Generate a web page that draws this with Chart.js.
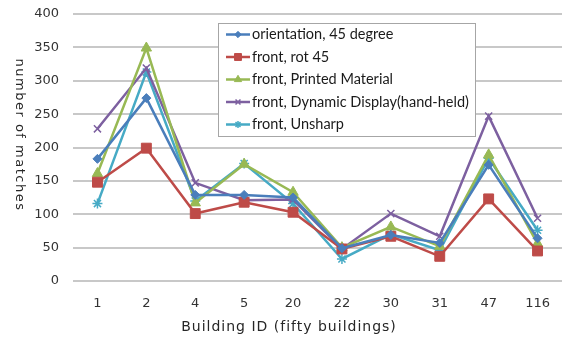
<!DOCTYPE html>
<html>
<head>
<meta charset="utf-8">
<script src="https://cdn.jsdelivr.net/npm/chart.js@4/dist/chart.umd.min.js"></script>
<style>
  html, body { margin: 0; padding: 0; background: #fff; }
  #wrap { width: 570px; height: 340px; }
</style>
</head>
<body>
<div id="wrap"><canvas id="c" width="570" height="340"></canvas></div>
<script>
// Building IDs on the x axis
const buildings = ['1', '2', '4', '5', '20', '22', '30', '31', '47', '116'];

// Number of matches per building for each test condition
const orientation45 = [183, 274, 129, 129, 125, 49, 69, 57, 174, 64];
const frontRot45 = [148, 199, 101, 118, 103, 48, 67, 37, 123, 45];
const frontPrinted = [161, 349, 117, 175, 133, 50, 81, 52, 189, 56];
const frontDynamic = [228, 319, 147, 121, 122, 48, 101, 67, 247, 94];
const frontUnsharp = [116, 313, 120, 176, 116, 33, 70, 46, 184, 76];

const seriesLabels = [
  'orientation, 45 degree',
  'front, rot 45',
  'front, Printed Material',
  'front, Dynamic Display(hand-held)',
  'front, Unsharp'
];

const yTicks = [0, 50, 100, 150, 200, 250, 300, 350, 400];

const palette = ['#4a7ebb', '#be4b48', '#98b954', '#7d60a0', '#46aac5'];
const shapes = ['rectRot', 'rect', 'triangle', 'crossRot', 'star'];
const sizes = [4.5, 7, 6, 5, 5];
const valueSets = [orientation45, frontRot45, frontPrinted, frontDynamic, frontUnsharp];

const datasets = valueSets.map((vals, i) => ({
  label: seriesLabels[i],
  data: vals,
  borderColor: palette[i],
  backgroundColor: palette[i],
  borderWidth: 2.5,
  pointStyle: shapes[i],
  pointRadius: sizes[i],
  pointBorderWidth: (shapes[i] === 'crossRot' || shapes[i] === 'star') ? 1.5 : 1,
  pointBorderColor: palette[i],
  pointBackgroundColor: palette[i],
  tension: 0
}));

// Axis titles: the vertical one reads top to bottom
const axisTitlePlugin = {
  id: 'axisTitles',
  afterDraw(chart) {
    const ctx = chart.ctx;
    ctx.save();
    ctx.fillStyle = '#262626';
    ctx.textAlign = 'center';
    ctx.textBaseline = 'middle';
    ctx.letterSpacing = '1.5px';
    ctx.font = '13px "DejaVu Sans"';
    ctx.save();
    ctx.translate(19, 135);
    ctx.rotate(Math.PI / 2);
    ctx.fillText('number of matches', 0, 0);
    ctx.restore();
    ctx.letterSpacing = '1px';
    ctx.font = '14px "DejaVu Sans"';
    ctx.fillText('Building ID (fifty buildings)', 289, 327);
    ctx.restore();
  }
};

// Boxed legend placed inside the plot
const boxLegendPlugin = {
  id: 'boxLegend',
  afterDraw(chart) {
    const ctx = chart.ctx;
    const x0 = 218, y0 = 23, w = 257, h = 113, rowH = 22.5;
    ctx.save();
    ctx.fillStyle = '#ffffff';
    ctx.fillRect(x0, y0, w, h);
    ctx.strokeStyle = '#a6a6a6';
    ctx.lineWidth = 1;
    ctx.strokeRect(x0 + 0.5, y0 + 0.5, w, h);
    chart.data.datasets.forEach((ds, i) => {
      const cy = y0 + 11.5 + i * rowH;
      ctx.strokeStyle = ds.borderColor;
      ctx.lineWidth = 2.5;
      ctx.beginPath();
      ctx.moveTo(226, cy);
      ctx.lineTo(250, cy);
      ctx.stroke();
      ctx.fillStyle = ds.backgroundColor;
      ctx.lineWidth = ds.pointBorderWidth;
      Chart.helpers.drawPoint(ctx, {
        pointStyle: ds.pointStyle,
        radius: ds.pointRadius * 0.7,
        rotation: 0,
        borderWidth: ds.pointBorderWidth
      }, 238, cy);
      ctx.fillStyle = '#1a1a1a';
      ctx.font = '14.5px Lato';
      ctx.textAlign = 'left';
      ctx.textBaseline = 'middle';
      ctx.fillText(ds.label, 252, cy);
    });
    ctx.restore();
  }
};

new Chart(document.getElementById('c'), {
  type: 'line',
  data: { labels: buildings, datasets },
  plugins: [axisTitlePlugin, boxLegendPlugin],
  options: {
    responsive: false,
    animation: false,
    layout: { padding: { top: 14, right: 0, left: 0, bottom: 0 } },
    plugins: {
      legend: { display: false },
      tooltip: { enabled: false }
    },
    scales: {
      x: {
        offset: true,
        grid: { display: false, drawTicks: false },
        border: { display: false },
        ticks: {
          padding: 15,
          color: '#333333',
          font: { family: 'DejaVu Sans', size: 13 }
        },
        afterFit(scale) { scale.height = 59; }
      },
      y: {
        min: 0,
        max: 400,
        afterBuildTicks(scale) { scale.ticks = yTicks.map(v => ({ value: v })); },
        grid: { color: '#c8c8c8', lineWidth: 2, drawTicks: false },
        border: { display: false },
        ticks: {
          padding: 14,
          color: '#333333',
          font: { family: 'DejaVu Sans', size: 13, lineHeight: 1 }
        },
        afterFit(scale) {
          scale.width = 73;
          scale.paddingTop = 0;
        }
      }
    }
  }
});
</script>
</body>
</html>
